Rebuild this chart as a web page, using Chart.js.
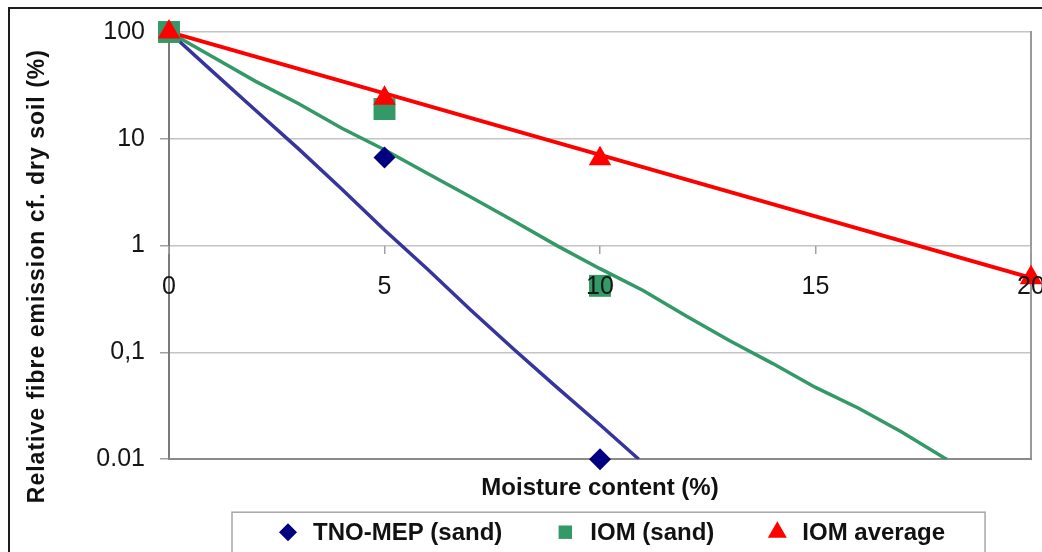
<!DOCTYPE html>
<html>
<head>
<meta charset="utf-8">
<script src="https://cdn.jsdelivr.net/npm/chart.js@4.4.0/dist/chart.umd.min.js"></script>
<style>
  html, body { margin: 0; padding: 0; background: #fff; overflow: hidden; }
  canvas { display: block; }
</style>
</head>
<body>
<canvas id="chart" width="1042" height="552"></canvas>
<script>
// Measured points: moisture content (%) and relative emission (%)
const SERIES_NAMES = ['TNO-MEP (sand)', 'IOM (sand)', 'IOM average'];
const TNO_X = [0, 5, 10];
const TNO_Y = [100, 6.7, 0.01];
const IOM_SAND_X = [0, 5, 10];
const IOM_SAND_Y = [100, 19, 0.42];
const IOM_AVG_X = [0, 5, 10, 20];
const IOM_AVG_Y = [100, 24, 6.5, 0.5];

// Fitted decay curves
const TNO_FIT_X = [0, 1, 2, 3, 4, 5, 6, 7, 8, 9, 10, 10.9];
const TNO_FIT_Y = [100, 43, 18.6, 8.1, 3.4, 1.4, 0.6, 0.25, 0.107, 0.047, 0.021, 0.01];
const IOM_FIT_X = [0, 1, 2, 3, 4, 5, 6, 7, 8, 9, 10, 11, 12, 13, 14, 15, 16, 17, 18, 18.05];
const IOM_FIT_Y = [100, 58.9, 34.7, 21.4, 12.6, 7.9, 4.73, 2.85, 1.70, 1.0, 0.608, 0.38, 0.219, 0.129, 0.079, 0.047, 0.030, 0.018, 0.0102, 0.01];
const AVG_FIT_X = [0, 5, 10, 15, 20];
const AVG_FIT_Y = [100, 26.6, 7.08, 1.88, 0.5];

// Axis ticks
const Y_TICKS = [0.01, 0.1, 1, 10, 100];
const Y_TICK_LABELS = ['0.01', '0,1', '1', '10', '100'];
const X_TICKS = [0, 5, 10, 15, 20];
const X_TICK_LABELS = ['0', '5', '10', '15', '20'];

const X_TITLE = 'Moisture content (%)';
const Y_TITLE = 'Relative fibre emission cf. dry soil (%)';

const NAVY = '#000080';
const BLUE = '#35359c';
const GREEN = '#339966';
const RED = '#ff0000';
const FONT = '"Liberation Sans", Arial, sans-serif';

const toPoints = (xs, ys) => xs.map((x, i) => ({ x, y: ys[i] }));

function markerSet(label, xs, ys, color, style, radius, order) {
  return {
    label, data: toPoints(xs, ys), showLine: false,
    pointStyle: style, pointRadius: radius, pointHoverRadius: radius,
    pointBackgroundColor: color, pointBorderColor: color, pointBorderWidth: 0,
    backgroundColor: color, borderColor: color, order, clip: false,
  };
}
function curveSet(xs, ys, color, width, order) {
  return {
    label: '', data: toPoints(xs, ys), showLine: true, tension: 0,
    borderColor: color, borderWidth: width, pointRadius: 0, pointHoverRadius: 0,
    order,
  };
}

const LEGEND_ENTRIES = [
  { name: SERIES_NAMES[0], color: NAVY, style: 'rectRot', radius: 9 },
  { name: SERIES_NAMES[1], color: GREEN, style: 'rect', radius: 9.5 },
  { name: SERIES_NAMES[2], color: RED, style: 'triangle', radius: 11 },
];

const noPadding = (scale) => {
  scale.paddingLeft = scale.paddingRight = scale.paddingTop = scale.paddingBottom = 0;
};

// White background and the outer chart frame
const framePlugin = {
  id: 'frame',
  beforeDraw(chart) {
    const { ctx, width, height } = chart;
    ctx.save();
    ctx.fillStyle = '#fff';
    ctx.fillRect(0, 0, width, height);
    ctx.strokeStyle = '#1c1c1c';
    ctx.lineWidth = 2;
    ctx.beginPath();
    ctx.moveTo(9, height + 2);
    ctx.lineTo(9, 8);
    ctx.lineTo(width + 2, 8);
    ctx.stroke();
    ctx.restore();
  }
};

// Vertical axis title, anchored at its lower end
const yTitlePlugin = {
  id: 'yTitle',
  afterDraw(chart) {
    const { ctx, chartArea } = chart;
    ctx.save();
    ctx.translate(chartArea.left - 131, chartArea.bottom + 44);
    ctx.rotate(-Math.PI / 2);
    ctx.font = 'bold 23px ' + FONT;
    if ('letterSpacing' in ctx) ctx.letterSpacing = '1px';
    ctx.fillStyle = '#111';
    ctx.textAlign = 'left';
    ctx.textBaseline = 'middle';
    ctx.fillText(Y_TITLE, 0, 0);
    ctx.restore();
  }
};

// Boxed legend below the axis title
const boxLegendPlugin = {
  id: 'boxLegend',
  afterDraw(chart) {
    const { ctx, chartArea } = chart;
    const cy = chartArea.bottom + 73;
    const boxTop = chartArea.bottom + 53;
    ctx.save();
    ctx.font = 'bold 24px ' + FONT;
    ctx.textBaseline = 'middle';
    ctx.textAlign = 'left';
    let x = chartArea.left + 119;
    const firstMarker = x;
    let lastEnd = x;
    LEGEND_ENTRIES.forEach((e) => {
      ctx.fillStyle = e.color;
      Chart.helpers.drawPoint(ctx, { pointStyle: e.style, radius: e.radius, rotation: 0, borderWidth: 0 }, x, cy);
      ctx.fillStyle = '#111';
      const tx = x + 25;
      ctx.fillText(e.name, tx, cy + 1);
      lastEnd = tx + ctx.measureText(e.name).width;
      x = lastEnd + 63;
    });
    const left = firstMarker - 56;
    const right = lastEnd + 40;
    ctx.strokeStyle = '#a6a6a6';
    ctx.lineWidth = 1.5;
    ctx.strokeRect(left, boxTop, right - left, 120);
    ctx.restore();
  }
};

new Chart(document.getElementById('chart'), {
  type: 'scatter',
  data: {
    datasets: [
      markerSet(SERIES_NAMES[0], TNO_X, TNO_Y, NAVY, 'rectRot', 11, 2),
      markerSet(SERIES_NAMES[1], IOM_SAND_X, IOM_SAND_Y, GREEN, 'rect', 15.5, 1),
      markerSet(SERIES_NAMES[2], IOM_AVG_X, IOM_AVG_Y, RED, 'triangle', 13, 0),
      curveSet(AVG_FIT_X, AVG_FIT_Y, RED, 4, 3),
      curveSet(IOM_FIT_X, IOM_FIT_Y, GREEN, 3.5, 4),
      curveSet(TNO_FIT_X, TNO_FIT_Y, BLUE, 3.5, 5),
    ]
  },
  options: {
    responsive: false,
    devicePixelRatio: 1,
    animation: false,
    events: [],
    layout: { autoPadding: false, padding: { top: 32, left: 0, right: 11, bottom: 49 } },
    plugins: { legend: { display: false }, tooltip: { enabled: false } },
    scales: {
      y: {
        type: 'logarithmic',
        position: 'left',
        min: 0.01, max: 100,
        afterFit(scale) { scale.width = 169; },
        afterBuildTicks(scale) { scale.ticks = Y_TICKS.map(v => ({ value: v })); },
        ticks: {
          callback: (v, i) => Y_TICK_LABELS[i],
          font: { family: FONT, size: 25 },
          color: '#151515',
          padding: 15,
          autoSkip: false,
        },
        grid: { color: '#c4c4c4', lineWidth: 1.5, tickLength: 9, tickColor: '#a0a0a0' },
        border: { display: true, color: '#7a7a7a', width: 2 },
      },
      yRight: {
        axis: 'y',
        type: 'logarithmic',
        position: 'right',
        min: 0.01, max: 100,
        afterFit(scale) { scale.width = 0; noPadding(scale); },
        ticks: { display: false },
        grid: { display: false },
        border: { display: true, color: '#999', width: 2 },
      },
      x: {
        type: 'linear',
        position: { y: 1 },
        min: 0, max: 20,
        afterFit: noPadding,
        afterBuildTicks(scale) { scale.ticks = X_TICKS.map(v => ({ value: v })); },
        ticks: {
          callback: (v, i) => X_TICK_LABELS[i],
          font: { family: FONT, size: 25 },
          color: '#151515',
          padding: 19,
          maxRotation: 0,
          autoSkip: false,
          z: 1,
        },
        grid: { drawOnChartArea: false, tickLength: 8, color: '#a0a0a0', lineWidth: 1.5, z: 1 },
        border: { display: false },
      },
      xTitle: {
        axis: 'x',
        type: 'linear',
        position: 'bottom',
        min: 0, max: 20,
        afterFit: noPadding,
        ticks: { display: false },
        grid: { display: false },
        border: { display: true, color: '#8a8a8a', width: 2 },
        title: {
          display: true,
          text: X_TITLE,
          font: { family: FONT, size: 24, weight: 'bold' },
          color: '#111',
          padding: { top: 7, bottom: 0 },
        },
      },
    },
  },
  plugins: [framePlugin, yTitlePlugin, boxLegendPlugin],
});
</script>
</body>
</html>
